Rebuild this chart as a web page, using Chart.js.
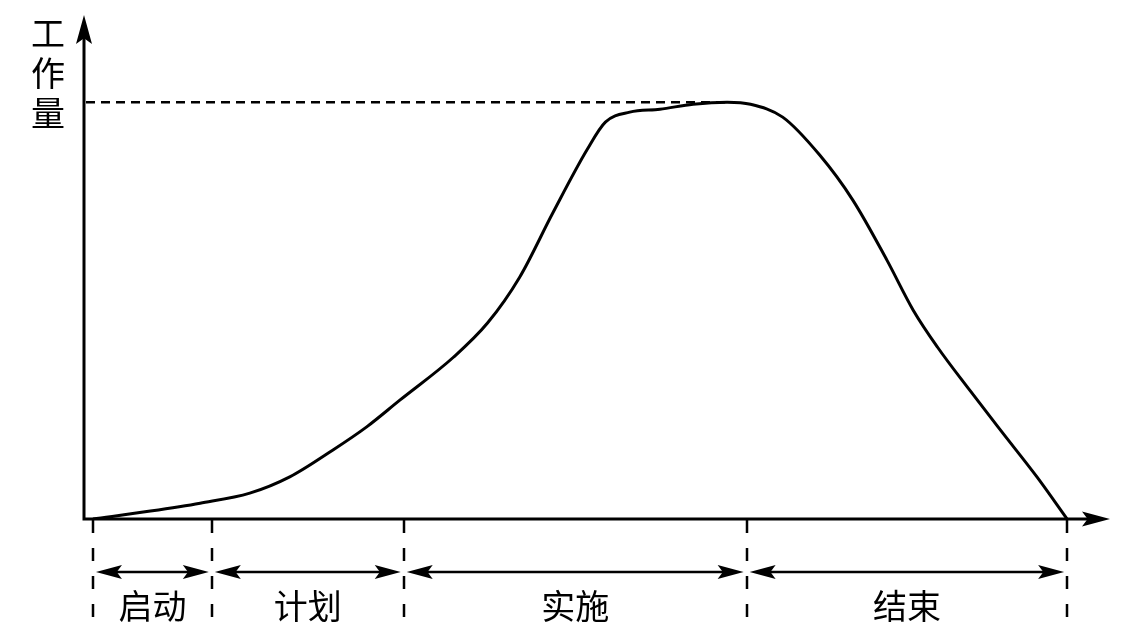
<!DOCTYPE html>
<html>
<head>
<meta charset="utf-8">
<script src="https://cdn.jsdelivr.net/npm/chart.js@4/dist/chart.umd.min.js"></script>
<style>
html,body{margin:0;padding:0;background:#fff;}
#wrap{width:1130px;height:641px;position:relative;}
</style>
</head>
<body>
<div id="wrap"><canvas id="c"></canvas></div>
<script>
// Time (0 = project start, 100 = project end) and workload (100 = peak)
const timeValues = [0, 5.9, 11.0, 16.1, 20.2, 24.6, 28.1, 31.5, 37.0, 40.5, 43.8, 47.2, 50.7, 52.6, 55.1, 58.2, 61.6, 65.1, 67.5, 70.8, 74.6, 78.0, 81.5, 84.2, 86.7, 90.0, 93.4, 96.9, 100];
const workload   = [0, 1.9, 3.8, 6.2, 10.1, 16.5, 22.1, 28.5, 38.8, 47.0, 58.0, 73.4, 88.5, 95.2, 97.6, 98.3, 99.5, 100, 99.5, 96.4, 87.3, 76.5, 62.1, 50.1, 41.2, 30.9, 20.6, 10.1, 0];
const phaseBounds = [0, 12.2, 31.9, 67.1, 100];
const phaseLabels = ['启动', '计划', '实施', '结束'];
const peakValue = 100;
const peakTime = 65.1;
const yAxisLabel = ['工', '作', '量'];

const FONT = '"Noto Sans CJK SC", "Noto Sans", sans-serif';

const points = timeValues.map((t, i) => ({x: t, y: workload[i]}));

function arrowHead(ctx, tipX, tipY, dirX, dirY, len, half) {
  const bx = tipX - dirX * len, by = tipY - dirY * len;
  const px = -dirY, py = dirX;
  const nx = tipX - dirX * len * 0.8, ny = tipY - dirY * len * 0.8;
  ctx.beginPath();
  ctx.moveTo(tipX, tipY);
  ctx.lineTo(bx + px * half, by + py * half);
  ctx.lineTo(nx, ny);
  ctx.lineTo(bx - px * half, by - py * half);
  ctx.closePath();
  ctx.fill();
}

const decor = {
  id: 'decor',
  afterDatasetsDraw(chart) {
    const ctx = chart.ctx;
    const xs = chart.scales.x, ys = chart.scales.y;
    const a = chart.chartArea;
    const x0 = a.left, yb = ys.getPixelForValue(0);
    ctx.save();
    ctx.strokeStyle = '#000';
    ctx.fillStyle = '#000';
    ctx.lineCap = 'butt';

    // axes
    ctx.lineWidth = 3;
    ctx.beginPath();
    ctx.moveTo(x0, yb + 1.5);
    ctx.lineTo(x0, a.top + 20);
    ctx.moveTo(x0 - 1.5, yb);
    ctx.lineTo(a.right - 20, yb);
    ctx.stroke();
    arrowHead(ctx, x0, a.top, 0, -1, 29, 8);
    arrowHead(ctx, a.right, yb, 1, 0, 28, 7.5);

    // peak dashed line
    const py = ys.getPixelForValue(peakValue);
    ctx.lineWidth = 2.5;
    ctx.setLineDash([9, 6]);
    ctx.beginPath();
    ctx.moveTo(x0 + 2, py);
    ctx.lineTo(xs.getPixelForValue(peakTime), py);
    ctx.stroke();

    // phase boundaries
    ctx.setLineDash([13, 15]);
    ctx.lineWidth = 2.5;
    phaseBounds.forEach(b => {
      const bx = Math.round(xs.getPixelForValue(b));
      ctx.beginPath();
      ctx.moveTo(bx, yb + 1);
      ctx.lineTo(bx, yb + 103);
      ctx.stroke();
    });
    ctx.setLineDash([]);

    // phase arrows + labels
    const ay = yb + 53;
    ctx.font = '34px ' + FONT;
    ctx.textAlign = 'center';
    ctx.textBaseline = 'middle';
    for (let i = 0; i < phaseLabels.length; i++) {
      const l = xs.getPixelForValue(phaseBounds[i]) + 3;
      const r = xs.getPixelForValue(phaseBounds[i + 1]) - 3;
      ctx.lineWidth = 2.5;
      ctx.beginPath();
      ctx.moveTo(l + 15, ay);
      ctx.lineTo(r - 15, ay);
      ctx.stroke();
      arrowHead(ctx, l, ay, -1, 0, 26, 7);
      arrowHead(ctx, r, ay, 1, 0, 26, 7);
      ctx.fillText(phaseLabels[i], (l + r) / 2, yb + 87);
    }

    // y axis label (vertical)
    ctx.font = '34px ' + FONT;
    yAxisLabel.forEach((ch, i) => {
      ctx.fillText(ch, 48, 33 + i * 40);
    });
    ctx.restore();
  }
};

// pixel-calibrated scale extents (axis origin left of project start, arrow tips beyond)
const xMin = -0.92, xMax = 104.4, yMax = 120.9;

new Chart(document.getElementById('c'), {
  type: 'line',
  data: {
    datasets: [{
      data: points,
      borderColor: '#000',
      borderWidth: 3,
      pointRadius: 0,
      fill: false,
      cubicInterpolationMode: 'monotone'
    }]
  },
  options: {
    responsive: true,
    maintainAspectRatio: false,
    animation: false,
    devicePixelRatio: 1,
    layout: {padding: {left: 84, right: 20, top: 15, bottom: 122}},
    plugins: {legend: {display: false}, tooltip: {enabled: false}},
    scales: {
      x: {type: 'linear', min: xMin, max: xMax, display: false},
      y: {type: 'linear', min: 0, max: yMax, display: false}
    }
  },
  plugins: [decor]
});
</script>
</body>
</html>
